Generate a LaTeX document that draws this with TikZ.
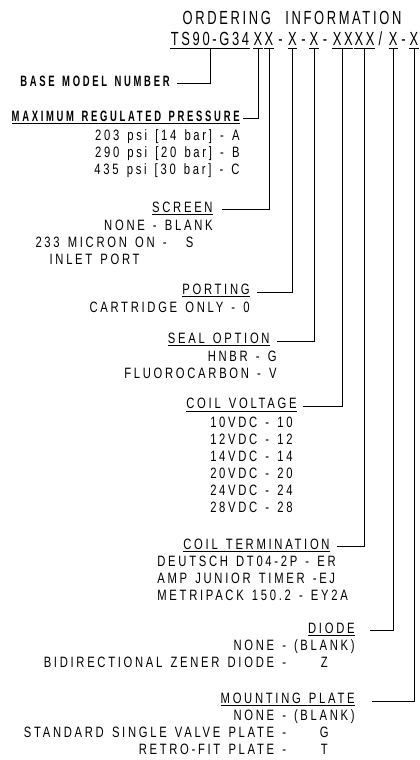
\documentclass[tikz,border=0pt]{standalone}
\usepackage{fontspec}
\newfontfamily\bodyfont{Liberation Sans}[FakeStretch=0.75,LetterSpace=18,WordSpace=1.4,
  BoldFeatures={FakeStretch=0.63}]
\newfontfamily\codefont{Liberation Sans}[FakeStretch=0.68,LetterSpace=14,WordSpace=2.3]
\newsavebox\ulsave
\newcommand\ulbox[2][0.7pt]{\sbox\ulsave{#2}\rlap{\rule[-2.6pt]{\wd\ulsave}{#1}}\usebox\ulsave}

\begin{document}
\begin{tikzpicture}[x=1pt,y=-1pt,line width=0.8pt,
  txt/.style={inner sep=0pt,font=\bodyfont\fontsize{15}{17}\selectfont},
  hd/.style={txt,anchor=base east},
  cd/.style={inner sep=0pt,anchor=base,font=\codefont\fontsize{19}{22}\selectfont}]
  \useasboundingbox (0,0) rectangle (420,760);

  \node[cd] (title) at (292,25) {ORDERING INFORMATION};

  % model code, one node per field
  \node[cd] (base) at (210,46) {TS90-G34};
  \node[cd] (p1) at (258,46) {X};
  \node[cd] (p2) at (269,46) {X};
  \node[cd] (s1) at (280.5,46) {-};
  \node[cd] (p3) at (292.5,46) {X};
  \node[cd] (s2) at (303.5,46) {-};
  \node[cd] (p4) at (314,46) {X};
  \node[cd] (s3) at (325,46) {-};
  \node[cd] (p5) at (342.7,46) {XX};
  \node[cd] (p6) at (364.6,46) {XX};
  \node[cd] (s4) at (380.5,46) {/};
  \node[cd] (p7) at (393.3,46) {X};
  \node[cd] (s5) at (403.5,46) {-};
  \node[cd] (p8) at (414,46) {X};
  \foreach \n in {base,p1,p2,p3,p4,p5,p6,p7,p8}
    \draw[line width=0.7pt] ([yshift=-2.5pt]\n.base west) -- ([yshift=-2.5pt]\n.base east);

  % headings
  \node[hd,font=\bodyfont\bfseries\fontsize{15}{17}\selectfont] (bmn) at (170,86) {BASE MODEL NUMBER};
  \node[hd,font=\bodyfont\bfseries\fontsize{15}{17}\selectfont] (mrp) at (240,121.3) {\ulbox[1.4pt]{MAXIMUM REGULATED PRESSURE}};
  \node[hd] (scr) at (213,212) {\ulbox{SCREEN}};
  \node[hd] (prt) at (250,294.5) {\ulbox{PORTING}};
  \node[hd] (seal) at (270,343.5) {\ulbox{SEAL OPTION}};
  \node[hd] (cv) at (297,408.7) {\ulbox{COIL VOLTAGE}};
  \node[hd] (ct) at (330,549) {\ulbox{COIL TERMINATION}};
  \node[hd] (dio) at (355,633.3) {\ulbox{DIODE}};
  \node[hd] (mnt) at (355,703.5) {\ulbox{MOUNTING PLATE}};

  % options under each heading
  \node[hd] (mrp-o) at (240,140.3) {\begin{tabular}[t]{@{}r@{}}
    203 psi [14 bar] - A\\290 psi [20 bar] - B\\435 psi [30 bar] - C\end{tabular}};
  \node[hd] (scr-o) at (213,230.3) {\begin{tabular}[t]{@{}r@{}}
    NONE - BLANK\\233 MICRON ON -\makebox[46pt]{S}\\INLET PORT\hspace*{73pt}\end{tabular}};
  \node[hd] (prt-o) at (250,312) {CARTRIDGE ONLY - 0};
  \node[hd] (seal-o) at (277,361) {\begin{tabular}[t]{@{}r@{}}
    HNBR - G\\FLUOROCARBON - V\end{tabular}};
  \node[hd] (cv-o) at (293,427) {\begin{tabular}[t]{@{}r@{}}
    10VDC - 10\\12VDC - 12\\14VDC - 14\\20VDC - 20\\24VDC - 24\\28VDC - 28\end{tabular}};
  \node[txt,anchor=base west] (ct-o) at (157,566) {\begin{tabular}[t]{@{}l@{}}
    DEUTSCH DT04-2P - ER\\AMP JUNIOR TIMER -EJ\\METRIPACK 150.2 - EY2A\end{tabular}};
  \node[hd] (dio-o) at (355,650.3) {\begin{tabular}[t]{@{}r@{\hspace{8pt}}c@{}}
    NONE - & (BLANK)\\BIDIRECTIONAL ZENER DIODE - & Z\end{tabular}};
  \node[hd] (mnt-o) at (355,720.3) {\begin{tabular}[t]{@{}r@{\hspace{8pt}}c@{}}
    NONE - & (BLANK)\\STANDARD SINGLE VALVE PLATE - & G\\RETRO-FIT PLATE - & T\end{tabular}};

  % leaders from code fields to headings
  \foreach \cd/\hd/\gp in {base/bmn/7,p1/mrp/3,p2/scr/9,p3/prt/7,p4/seal/7,
                          p5/cv/6,p6/ct/7,p7/dio/15,p8/mnt/17}
    \draw ([yshift=-2.5pt]\cd.base) |- ([xshift=\gp pt,yshift=2.5pt]\hd.base east);
\end{tikzpicture}
\end{document}
